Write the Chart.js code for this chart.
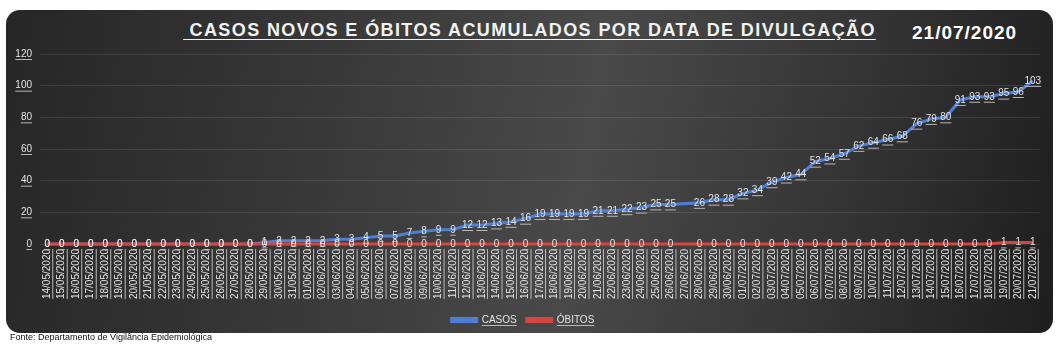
<!DOCTYPE html>
<html lang="pt-BR">
<head>
<meta charset="utf-8">
<title>Casos novos e óbitos acumulados</title>
<script src="https://cdn.jsdelivr.net/npm/chart.js@4.4.1/dist/chart.umd.min.js"></script>
<style>
  body { margin: 0; background: #fff; font-family: "Liberation Sans", Arial, sans-serif; }
  #quadro { position: relative; width: 1059px; height: 347px; overflow: hidden; }
  #fundo {
    position: absolute; left: 6px; top: 10px; width: 1047px; height: 323px;
    border-radius: 14px;
    background: linear-gradient(100deg, #262626 0%, #353535 25%, #494949 55%, #353535 78%, #1e1e1e 100%);
  }
  #titulo {
    position: absolute; left: 0; width: 1059px; top: 21px; text-align: center;
    font-size: 18px; line-height: 18px; font-weight: bold; color: #f2f2f2;
    letter-spacing: 1.4px; text-decoration: underline; text-underline-offset: 3px;
    white-space: pre;
  }
  #dataDivulgacao {
    position: absolute; left: 912px; top: 23px;
    font-size: 19px; line-height: 19px; font-weight: bold; color: #fff; letter-spacing: 1px;
  }
  #fonte {
    position: absolute; left: 10px; top: 333px; font-size: 9px; line-height: 9px; color: #111;
  }
  canvas { position: absolute; left: 0; top: 0; }
</style>
</head>
<body>
<div id="quadro">
  <div id="fundo"></div>
  <div id="titulo"> CASOS NOVOS E ÓBITOS ACUMULADOS POR DATA DE DIVULGAÇÃO</div>
  <div id="dataDivulgacao">21/07/2020</div>
  <canvas id="grafico" width="1059" height="347"></canvas>
  <div id="fonte">Fonte: Departamento de Vigilância Epidemiológica</div>
</div>
<script>
// Datas de divulgação (eixo X)
const datas = [
  '14/05/2020', '15/05/2020', '16/05/2020', '17/05/2020', '18/05/2020', '19/05/2020', '20/05/2020',
  '21/05/2020', '22/05/2020', '23/05/2020', '24/05/2020', '25/05/2020', '26/05/2020', '27/05/2020',
  '28/05/2020', '29/05/2020', '30/05/2020', '31/05/2020', '01/06/2020', '02/06/2020', '03/06/2020',
  '04/06/2020', '05/06/2020', '06/06/2020', '07/06/2020', '08/06/2020', '09/06/2020', '10/06/2020',
  '11/06/2020', '12/06/2020', '13/06/2020', '14/06/2020', '15/06/2020', '16/06/2020', '17/06/2020',
  '18/06/2020', '19/06/2020', '20/06/2020', '21/06/2020', '22/06/2020', '23/06/2020', '24/06/2020',
  '25/06/2020', '26/06/2020', '27/06/2020', '28/06/2020', '29/06/2020', '30/06/2020', '01/07/2020',
  '02/07/2020', '03/07/2020', '04/07/2020', '05/07/2020', '06/07/2020', '07/07/2020', '08/07/2020',
  '09/07/2020', '10/07/2020', '11/07/2020', '12/07/2020', '13/07/2020', '14/07/2020', '15/07/2020',
  '16/07/2020', '17/07/2020', '18/07/2020', '19/07/2020', '20/07/2020', '21/07/2020'
];

// Casos acumulados (27/06 sem divulgação)
const casos = [
  0, 0, 0, 0, 0, 0, 0, 0, 0, 0, 0, 0, 0, 0, 0,
  1, 2, 2, 2, 2, 3, 3, 4, 5, 5, 7, 8, 9, 9,
  12, 12, 13, 14, 16, 19, 19, 19, 19, 21, 21, 22, 23, 25, 25, null, 26, 28, 28,
  32, 34, 39, 42, 44, 52, 54, 57, 62, 64, 66, 68, 76, 79, 80, 91, 93, 93, 95, 96, 103
];

// Óbitos acumulados
const obitos = [
  0, 0, 0, 0, 0, 0, 0, 0, 0, 0, 0, 0, 0, 0, 0,
  0, 0, 0, 0, 0, 0, 0, 0, 0, 0, 0, 0, 0, 0,
  0, 0, 0, 0, 0, 0, 0, 0, 0, 0, 0, 0, 0, 0, 0, null, 0, 0, 0,
  0, 0, 0, 0, 0, 0, 0, 0, 0, 0, 0, 0, 0, 0, 0, 0, 0, 0, 1, 1, 1
];

const ticksY = [0, 20, 40, 60, 80, 100, 120];

const fonte = '"Liberation Sans", Arial, sans-serif';
const corTexto = '#e4e4e4';
const corSublinhado = '#b8b8b8';

// Rótulos de dados sublinhados, centralizados no ponto
const rotulosPlugin = {
  id: 'rotulos',
  afterDatasetsDraw(chart) {
    const ctx = chart.ctx;
    ctx.save();
    ctx.font = '10px ' + fonte;
    ctx.textAlign = 'center';
    ctx.textBaseline = 'middle';
    chart.data.datasets.forEach((ds, i) => {
      const meta = chart.getDatasetMeta(i);
      meta.data.forEach((pt, j) => {
        const v = ds.data[j];
        if (v === null) return;
        const txt = String(v);
        const w = ctx.measureText(txt).width;
        ctx.fillStyle = corTexto;
        ctx.fillText(txt, pt.x, pt.y);
        ctx.fillStyle = corSublinhado;
        ctx.fillRect(pt.x - w / 2, pt.y + 5, w, 1);
      });
    });
    ctx.restore();
  }
};

// Sublinhado dos textos dos eixos e da legenda (estilo da planilha original)
const sublinhadoPlugin = {
  id: 'sublinhado',
  afterDraw(chart) {
    const ctx = chart.ctx;
    ctx.save();
    ctx.fillStyle = corSublinhado;
    ctx.font = '10px ' + fonte;

    const y = chart.scales.y;
    y.ticks.forEach((t, i) => {
      const py = y.getPixelForTick(i);
      const w = ctx.measureText(String(t.label)).width;
      ctx.fillRect(y.right - 8 - w, py + 5, w, 1);
    });

    const x = chart.scales.x;
    x.ticks.forEach((t, i) => {
      const px = x.getPixelForTick(i);
      const w = ctx.measureText(String(t.label)).width;
      ctx.fillRect(px + 5, x.top + 5, 1, w);
    });

    const leg = chart.legend;
    leg.legendItems.forEach((item, i) => {
      const hb = leg.legendHitBoxes[i];
      const w = ctx.measureText(item.text).width;
      ctx.fillRect(hb.left + 25 + 5, hb.top + hb.height / 2 + 5, w, 1);
    });
    ctx.restore();
  }
};

new Chart(document.getElementById('grafico'), {
  type: 'line',
  data: {
    labels: datas,
    datasets: [
      {
        label: 'CASOS',
        data: casos,
        borderColor: '#4d7fd8',
        backgroundColor: '#4d7fd8',
        borderWidth: 3,
        pointRadius: 0,
        tension: 0,
        spanGaps: true,
        clip: false,
        order: 2
      },
      {
        label: 'ÓBITOS',
        data: obitos,
        borderColor: '#d9443c',
        backgroundColor: '#d9443c',
        borderWidth: 3,
        pointRadius: 0,
        tension: 0,
        spanGaps: true,
        clip: false,
        order: 1
      }
    ]
  },
  options: {
    responsive: false,
    animation: false,
    layout: { padding: { left: 6, right: 19, top: 54, bottom: 12 } },
    plugins: {
      legend: {
        position: 'bottom',
        labels: {
          color: corTexto,
          font: { family: fonte, size: 10 },
          boxWidth: 25,
          boxHeight: 3,
          padding: 10,
          sort: (a, b) => a.datasetIndex - b.datasetIndex
        }
      },
      tooltip: { enabled: false }
    },
    scales: {
      x: {
        offset: true,
        grid: { display: false, drawTicks: false },
        border: { display: false },
        afterFit: (s) => { s.height = 61; },
        ticks: {
          autoSkip: false,
          minRotation: 90,
          maxRotation: 90,
          padding: 5,
          color: corTexto,
          font: { family: fonte, size: 10 }
        }
      },
      y: {
        min: 0,
        max: 120,
        afterFit: (s) => { s.width = 34; },
        afterBuildTicks: (s) => { s.ticks = ticksY.map(v => ({ value: v })); },
        grid: { color: 'rgba(255,255,255,0.10)', drawTicks: false },
        border: { display: false },
        ticks: {
          padding: 8,
          color: corTexto,
          font: { family: fonte, size: 10 }
        }
      }
    }
  },
  plugins: [rotulosPlugin, sublinhadoPlugin]
});
</script>
</body>
</html>
